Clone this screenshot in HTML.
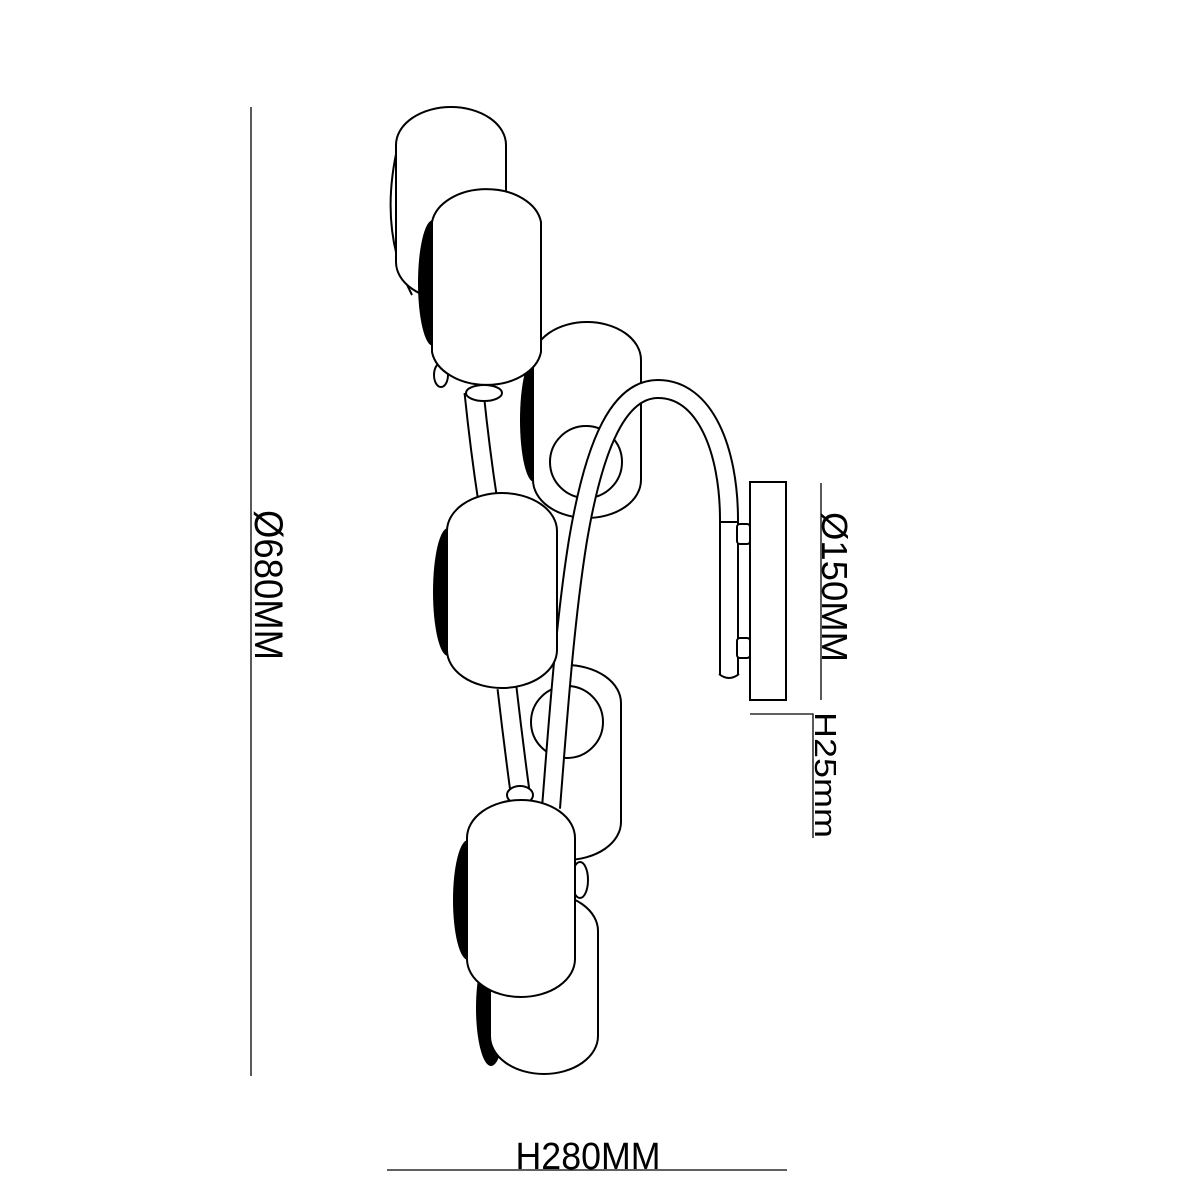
<!DOCTYPE html>
<html><head><meta charset="utf-8"><style>
html,body{margin:0;padding:0;background:#fff;}
svg{display:block;}
text{font-family:"Liberation Sans",Arial,sans-serif;fill:#000;}
</style></head><body>
<svg width="1200" height="1200" viewBox="0 0 1200 1200" xmlns="http://www.w3.org/2000/svg">
<rect width="1200" height="1200" fill="#fff"/>
<g fill="#fff" stroke="#000" stroke-width="2">
<!-- back shade 1 -->
<path d="M398,145 Q378,230 412,295" fill="none"/>
<path d="M396,145 A55,38 0 0 1 506,145 L506,262 A55,38 0 0 1 396,262 Z"/>
<!-- back shade 3 -->
<ellipse cx="534" cy="420" rx="14" ry="62" fill="#000" stroke="none"/>
<path d="M533,360 A54,38 0 0 1 641,360 L641,480 A54,38 0 0 1 533,480 Z"/>
<circle cx="586" cy="462" r="36"/>
<!-- back shade 5 -->
<path d="M511,703 A55,38 0 0 1 621,703 L621,822 A55,38 0 0 1 511,822 Z"/>
<circle cx="567" cy="722" r="36"/>
<!-- back shade 7 -->
<ellipse cx="491" cy="1008" rx="15" ry="58" fill="#000" stroke="none"/>
<path d="M490,931 A54,38 0 0 1 598,931 L598,1036 A54,38 0 0 1 490,1036 Z"/>
<ellipse cx="580" cy="880" rx="8" ry="18"/>
</g>
<!-- stems -->
<g fill="none" stroke-linecap="butt">
<path d="M474,392 Q480,450 488,502" stroke="#000" stroke-width="21"/>
<path d="M474,392 Q480,450 488,502" stroke="#fff" stroke-width="17"/>
<path d="M507,688 Q513,740 520,792" stroke="#000" stroke-width="21"/>
<path d="M507,688 Q513,740 520,792" stroke="#fff" stroke-width="17"/>
</g>
<!-- arc tube -->
<g fill="none">
<path d="M551,808 C558,720 565,620 578,540 C595,440 620,389 658,389 C705,389 729,450 729,520 L729,674" stroke="#000" stroke-width="20"/>
<path d="M551,808 C558,720 565,620 578,540 C595,440 620,389 658,389 C705,389 729,450 729,520 L729,674" stroke="#fff" stroke-width="16"/>
<path d="M719,522 L739,522" stroke="#000" stroke-width="2"/>
<path d="M719,674 Q729,682 739,674" stroke="#000" stroke-width="2"/>
</g>
<!-- wall plate -->
<g fill="#fff" stroke="#000" stroke-width="2">
<rect x="737" y="524" width="13" height="20" rx="3"/>
<rect x="737" y="638" width="13" height="20" rx="3"/>
<rect x="750" y="482" width="36" height="218"/>
</g>
<!-- front shades -->
<g fill="#fff" stroke="#000" stroke-width="2">
<ellipse cx="433" cy="283" rx="15" ry="63" fill="#000" stroke="none"/>
<ellipse cx="441" cy="375" rx="7" ry="12"/>
<ellipse cx="484" cy="393" rx="18" ry="8"/>
<path d="M432,222 A55,38 0 0 1 541,222 L541,352 A55,38 0 0 1 432,352 Z"/>
<ellipse cx="448" cy="592" rx="15" ry="64" fill="#000" stroke="none"/>
<path d="M447,531 A55,38 0 0 1 557,531 L557,650 A55,38 0 0 1 447,650 Z"/>
<ellipse cx="520" cy="795" rx="13" ry="9"/>
<path d="M495,812 A28,14 0 0 1 547,812"/>
<ellipse cx="468" cy="900" rx="15" ry="60" fill="#000" stroke="none"/>
<path d="M467,838 A54,38 0 0 1 575,838 L575,959 A54,38 0 0 1 467,959 Z"/>
</g>
<!-- dimensions -->
<g stroke="#000" stroke-width="1.3" fill="none">
<line x1="251" y1="107" x2="251" y2="1076"/>
<line x1="387" y1="1170" x2="787" y2="1170"/>
<line x1="821" y1="483" x2="821" y2="700"/>
<polyline points="750,714 813,714 813,838"/>
</g>
<text transform="translate(255,585) rotate(90)" text-anchor="middle" font-size="40" textLength="150" lengthAdjust="spacingAndGlyphs">Ø680MM</text>
<text transform="translate(822,587) rotate(90)" text-anchor="middle" font-size="36" textLength="150" lengthAdjust="spacingAndGlyphs">Ø150MM</text>
<text transform="translate(815,775) rotate(90)" text-anchor="middle" font-size="31" textLength="126" lengthAdjust="spacingAndGlyphs">H25mm</text>
<text x="588" y="1169" text-anchor="middle" font-size="38" textLength="145" lengthAdjust="spacingAndGlyphs">H280MM</text>
</svg>
</body></html>
